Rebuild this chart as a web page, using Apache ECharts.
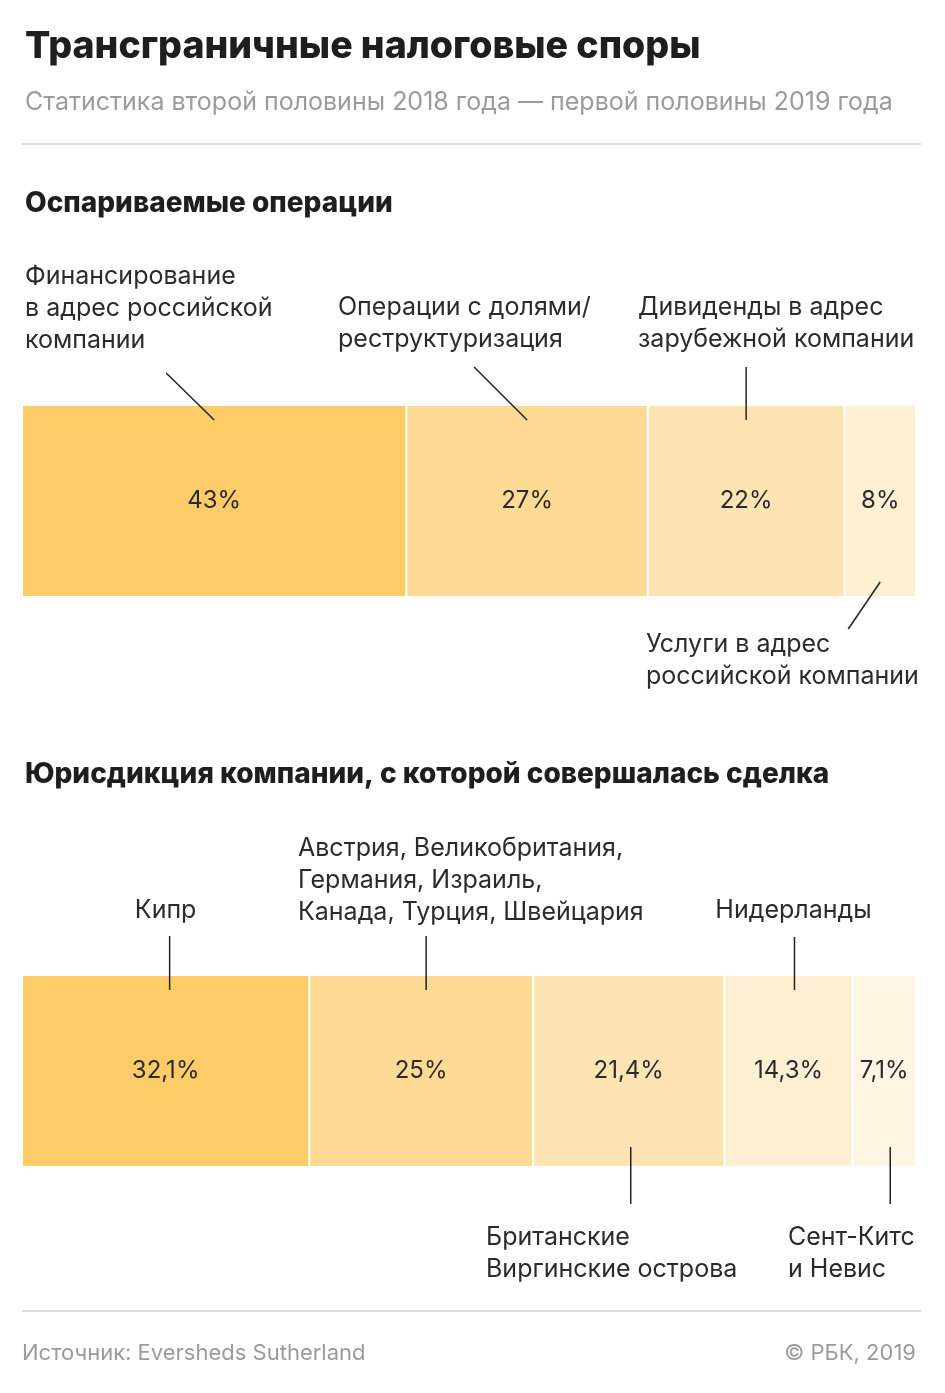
<!DOCTYPE html>
<html>
<head>
<meta charset="utf-8">
<script src="https://cdn.jsdelivr.net/npm/echarts@6/dist/echarts.min.js"></script>
<style>
  html, body { margin: 0; padding: 0; background: #fff; }
  #chart { width: 945px; height: 1393px; }
</style>
</head>
<body>
<div id="chart"></div>
<script>
// data
const opsNames = [
  'Финансирование\nв адрес российской\nкомпании',
  'Операции с долями/\nреструктуризация',
  'Дивиденды в адрес\nзарубежной компании',
  'Услуги в адрес\nроссийской компании'
];
const opsValues = [43, 27, 22, 8];

const jurNames = [
  'Кипр',
  'Австрия, Великобритания,\nГермания, Израиль,\nКанада, Турция, Швейцария',
  'Британские\nВиргинские острова',
  'Нидерланды',
  'Сент-Китс\nи Невис'
];
const jurValues = [32.1, 25, 21.4, 14.3, 7.1];

// styles
const FONT = 'Inter, "Noto Sans", sans-serif';
const shades = ['#fecb69', '#feda95', '#fee4b2', '#ffefd3', '#fff5e2'];
const opsShades = ['#fecb69', '#feda95', '#fee4b2', '#ffefd3'];

const chart = echarts.init(document.getElementById('chart'));

function fmt(v) {
  return String(v).replace('.', ',') + '%';
}

function makeSeries(values, colors, idx, stack) {
  return values.map((v, i) => ({
    type: 'bar',
    stack: stack,
    xAxisIndex: idx,
    yAxisIndex: idx,
    barWidth: '100%',
    data: [v],
    silent: true,
    itemStyle: { color: colors[i], borderColor: '#fff', borderWidth: 1 },
    label: {
      show: true,
      position: 'inside',
      formatter: fmt(v),
      color: '#2b2b2b',
      fontSize: 24,
      fontFamily: FONT
    }
  }));
}

const sum = a => a.reduce((s, v) => s + v, 0);

chart.setOption({
  animation: false,
  grid: [
    { left: 22, width: 894, top: 405, height: 192 },
    { left: 22, width: 894, top: 975, height: 192 }
  ],
  xAxis: [
    { gridIndex: 0, type: 'value', min: 0, max: sum(opsValues), show: false },
    { gridIndex: 1, type: 'value', min: 0, max: sum(jurValues), show: false }
  ],
  yAxis: [
    { gridIndex: 0, type: 'category', data: ['ops'], show: false },
    { gridIndex: 1, type: 'category', data: ['jur'], show: false }
  ],
  series: [
    ...makeSeries(opsValues, opsShades, 0, 'ops'),
    ...makeSeries(jurValues, shades, 1, 'jur')
  ]
});

// centre of a segment in pixels
function centerPx(values, i, axis) {
  let s = 0;
  for (let k = 0; k < i; k++) s += values[k];
  return chart.convertToPixel({ xAxisIndex: axis }, s + values[i] / 2);
}

function txt(text, x, y, opts) {
  return {
    type: 'text',
    silent: true,
    z: 100,
    style: Object.assign({
      text: text, x: x, y: y,
      fill: '#2b2b2b',
      fontSize: 25,
      fontFamily: FONT,
      lineHeight: 32,
      verticalAlign: 'top',
      align: 'left'
    }, opts || {})
  };
}

function line(x1, y1, x2, y2, color, w) {
  return {
    type: 'line',
    silent: true,
    z: 100,
    shape: { x1: x1, y1: y1, x2: x2, y2: y2 },
    style: { stroke: color || '#222', lineWidth: w || 1.5 }
  };
}

const g = [];

// header
g.push(txt('Трансграничные налоговые споры', 25, 26, { fontSize: 37.5, fontWeight: 800, fill: '#1e1e1e', lineHeight: 42 }));
g.push(txt('Статистика второй половины 2018 года — первой половины 2019 года', 25, 86, { fill: '#9b9b9b' }));
g.push(line(22, 144, 921, 144, '#dddddd', 2));
g.push(txt('Оспариваемые операции', 25, 188, { fontSize: 28, fontWeight: 800, fill: '#1e1e1e' }));
g.push(txt('Юрисдикция компании, с которой совершалась сделка', 25, 759, { fontSize: 28, fontWeight: 800, fill: '#1e1e1e' }));

// annotations for the first bar
let c;
c = centerPx(opsValues, 0, 0);
g.push(line(c - 48, 373, c, 420));
g.push(txt(opsNames[0], 25, 260));
c = centerPx(opsValues, 1, 0);
g.push(line(c - 53, 367, c, 420));
g.push(txt(opsNames[1], 338, 291));
c = centerPx(opsValues, 2, 0);
g.push(line(c, 367, c, 420));
g.push(txt(opsNames[2], 638, 291));
c = centerPx(opsValues, 3, 0);
g.push(line(c, 582, c - 32, 629));
g.push(txt(opsNames[3], 646, 628));

// annotations for the second bar
c = centerPx(jurValues, 0, 1);
g.push(line(c + 4, 936, c + 4, 990));
g.push(txt(jurNames[0], c, 894, { align: 'center' }));
c = centerPx(jurValues, 1, 1);
g.push(line(c + 5, 936, c + 5, 990));
g.push(txt(jurNames[1], 298, 832));
c = centerPx(jurValues, 2, 1);
g.push(line(c + 2, 1147, c + 2, 1204));
g.push(txt(jurNames[2], 486, 1221));
c = centerPx(jurValues, 3, 1);
g.push(line(c + 6, 937, c + 6, 990));
g.push(txt(jurNames[3], c + 5, 894, { align: 'center' }));
c = centerPx(jurValues, 4, 1);
g.push(line(c + 6, 1147, c + 6, 1204));
g.push(txt(jurNames[4], 788, 1221));

// footer
g.push(line(22, 1311, 921, 1311, '#dddddd', 2));
g.push(txt('Источник: Eversheds Sutherland', 22, 1337, { fill: '#9b9b9b', fontSize: 22 }));
g.push(txt('© РБК, 2019', 916, 1337, { fill: '#9b9b9b', fontSize: 22, align: 'right' }));

chart.setOption({ graphic: g });
</script>
</body>
</html>
